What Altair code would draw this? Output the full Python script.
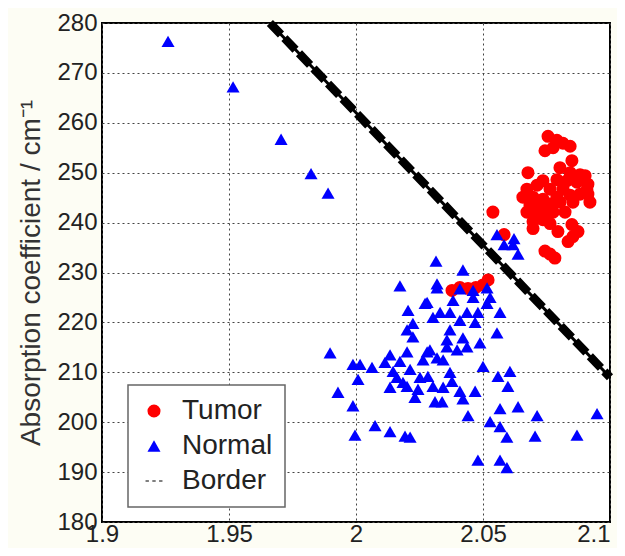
import altair as alt
import pandas as pd

# ---- data ----
tumor_x = [2.0756, 2.0791, 2.0815, 2.0843, 2.0744, 2.0776, 2.0850, 2.0677, 2.0843, 2.0882,
           2.0902, 2.0736, 2.0791, 2.0831, 2.0870, 2.0913, 2.0713, 2.0764, 2.0815, 2.0673,
           2.0909, 2.0657, 2.0697, 2.0736, 2.0791, 2.0843, 2.0882, 2.0913, 2.0685, 2.0724,
           2.0764, 2.0803, 2.0854, 2.0673, 2.0713, 2.0752, 2.0776, 2.0697, 2.0736, 2.0764,
           2.0697, 2.0795, 2.0850, 2.0874, 2.0835, 2.0854, 2.0744, 2.0764, 2.0783, 2.0539,
           2.0583, 2.0378, 2.0409, 2.0441, 2.0472, 2.0500, 2.0520, 2.0803, 2.0921, 2.0823]
tumor_y = [257.3, 256.5, 255.9, 255.3, 254.4, 255.0, 252.4, 250.0, 250.0, 249.6,
           249.4, 248.4, 248.6, 248.4, 248.1, 247.7, 247.5, 246.7, 246.7, 246.7,
           246.5, 245.1, 245.1, 244.7, 245.1, 245.5, 245.7, 245.7, 243.5, 243.5,
           243.7, 244.1, 244.1, 242.1, 242.1, 241.7, 242.1, 240.2, 240.6, 239.8,
           238.8, 238.2, 239.6, 238.2, 236.2, 237.2, 234.3, 233.7, 232.9, 242.1,
           237.6, 226.4, 227.0, 226.8, 227.0, 227.5, 228.5, 251.0, 244.1, 242.1]

normal_x = [1.9260, 1.9516, 1.9705, 1.9823, 1.9890, 2.0555, 2.0583, 2.0622, 2.0638, 2.0315,
            2.0421, 2.0618, 2.0173, 2.0319, 2.0461, 2.0516, 2.0319, 2.0409, 2.0280, 2.0272,
            2.0205, 2.0331, 2.0437, 2.0516, 2.0567, 2.0382, 2.0461, 2.0528, 2.0370, 2.0480,
            2.0303, 2.0224, 2.0409, 2.0469, 2.0201, 2.0370, 2.0555, 2.0224, 2.0358, 2.0421,
            2.0488, 2.0358, 2.0437, 1.9898, 2.0134, 2.0201, 2.0280, 2.0291, 2.0398, 2.0264,
            2.0319, 2.0343, 2.0114, 2.0173, 1.9988, 2.0016, 2.0063, 2.0500, 2.0146, 2.0213,
            2.0370, 2.0559, 2.0606, 2.0008, 2.0161, 2.0252, 2.0283, 2.0378, 2.0185, 2.0598,
            2.0134, 2.0201, 2.0244, 2.0303, 2.0343, 2.0409, 2.0469, 1.9929, 2.0232, 2.0421,
            2.0311, 2.0339, 1.9988, 2.0567, 2.0638, 2.0441, 2.0713, 2.0949, 2.0528, 2.0567,
            2.0075, 2.0134, 1.9996, 2.0193, 2.0213, 2.0594, 2.0705, 2.0870, 2.0480, 2.0567,
            2.0594]
normal_y = [276.3, 267.2, 256.7, 249.8, 245.9, 237.6, 235.6, 236.8, 233.7, 232.3,
            230.5, 235.6, 227.3, 226.9, 226.4, 226.9, 227.7, 226.7, 224.0, 223.8,
            222.4, 222.0, 222.0, 223.8, 222.0, 224.4, 225.0, 225.0, 222.0, 222.0,
            221.0, 219.8, 220.4, 220.0, 218.5, 218.5, 217.9, 217.1, 216.5, 216.9,
            215.9, 215.1, 215.1, 213.9, 213.5, 214.1, 214.1, 214.5, 214.5, 212.5,
            212.9, 212.5, 212.0, 212.2, 211.6, 211.6, 211.0, 211.2, 210.2, 210.6,
            210.0, 209.2, 210.2, 208.6, 209.0, 209.0, 209.2, 208.2, 208.0, 207.2,
            207.0, 207.2, 206.6, 207.2, 207.0, 206.2, 206.2, 206.0, 205.0, 204.7,
            204.1, 204.1, 203.3, 202.7, 203.1, 201.3, 201.3, 201.7, 200.1, 199.1,
            199.3, 198.1, 197.4, 197.2, 197.0, 197.0, 197.2, 197.4, 192.4, 192.4,
            190.9]

border_x = [1.9661, 2.1]
border_y = [280.0, 209.0]

groups = ["Tumor", "Normal", "Border"]
x_ticks = [1.9, 1.95, 2.0, 2.05, 2.1]
y_ticks = [180, 190, 200, 210, 220, 230, 240, 250, 260, 270, 280]

# ---- tables ----
pts = pd.DataFrame({
    "x": tumor_x + normal_x,
    "y": tumor_y + normal_y,
    "group": ["Tumor"] * len(tumor_x) + ["Normal"] * len(normal_x),
})
border = pd.DataFrame({"x": border_x, "y": border_y})

dash_path = ("M-1.3,-0.08H-0.78V0.08H-1.3Z "
             "M-0.26,-0.08H0.26V0.08H-0.26Z "
             "M0.78,-0.08H1.3V0.08H0.78Z")

xscale = alt.Scale(domain=[1.9, 2.1], nice=False, zero=False)
yscale = alt.Scale(domain=[180, 280], nice=False, zero=False)

label_font = "Liberation Sans Narrow, Liberation Sans, Arial, sans-serif"

xaxis = alt.Axis(values=x_ticks, format="~g", title=None, grid=True,
                 labelFont=label_font, labelFontSize=24, labelColor="#222",
                 labelPadding=0, ticks=False, domain=False, labelFlush=False,
                 labelAlign={"condition": {"test": "datum.value >= 2.099", "value": "right"},
                             "value": "center"})
yaxis = alt.Axis(values=y_ticks, format="d", title="Absorption coefficient / cm⁻¹",
                 grid=True, labelFont=label_font, labelFontSize=24, labelColor="#222",
                 labelPadding=5, ticks=False, domain=False, labelFlush=False,
                 titleFont="Liberation Sans, Arial, sans-serif", titleFontSize=28,
                 titleFontWeight="normal", titleColor="#333", titlePadding=11)

points = alt.Chart(pts).mark_point(filled=True, opacity=1, strokeWidth=0).encode(
    x=alt.X("x:Q", scale=xscale, axis=xaxis),
    y=alt.Y("y:Q", scale=yscale, axis=yaxis),
    color=alt.Color("group:N",
                    scale=alt.Scale(domain=groups, range=["#ff0000", "#0000ff", "#000000"]),
                    legend=alt.Legend(title=None)),
    shape=alt.Shape("group:N",
                    scale=alt.Scale(domain=groups, range=["circle", "triangle-up", dash_path]),
                    legend=alt.Legend(title=None)),
    size=alt.value(170),
)

line_thin = alt.Chart(border).mark_line(color="black", strokeWidth=3).encode(
    x=alt.X("x:Q", scale=xscale), y=alt.Y("y:Q", scale=yscale))
line_dash = alt.Chart(border).mark_line(color="black", strokeWidth=8.5,
                                        strokeDash=[16, 5]).encode(
    x=alt.X("x:Q", scale=xscale), y=alt.Y("y:Q", scale=yscale))

chart = alt.layer(points, line_thin, line_dash).properties(
    width=508, height=499,
    autosize=alt.AutoSizeParams(type="none"),
    padding={"left": 94, "top": 15, "right": 7, "bottom": 26},
    background="#fdfdf4",
).configure_view(
    fill="white", stroke="black", strokeWidth=2
).configure_axis(
    gridDash=[2, 3], gridColor="#444", gridWidth=1, gridOpacity=1
).configure_legend(
    orient="none", legendX=26, legendY=362, padding=12,
    strokeColor="#666", fillColor="white", strokeWidth=1.5,
    labelFont="Liberation Sans, Arial, sans-serif", labelFontSize=28, labelColor="#222",
    symbolSize=170, symbolStrokeWidth=0, rowPadding=7, labelOffset=14,
    symbolOpacity=1,
)

chart.save("out.html", embed_options={"renderer": "svg", "actions": False})
